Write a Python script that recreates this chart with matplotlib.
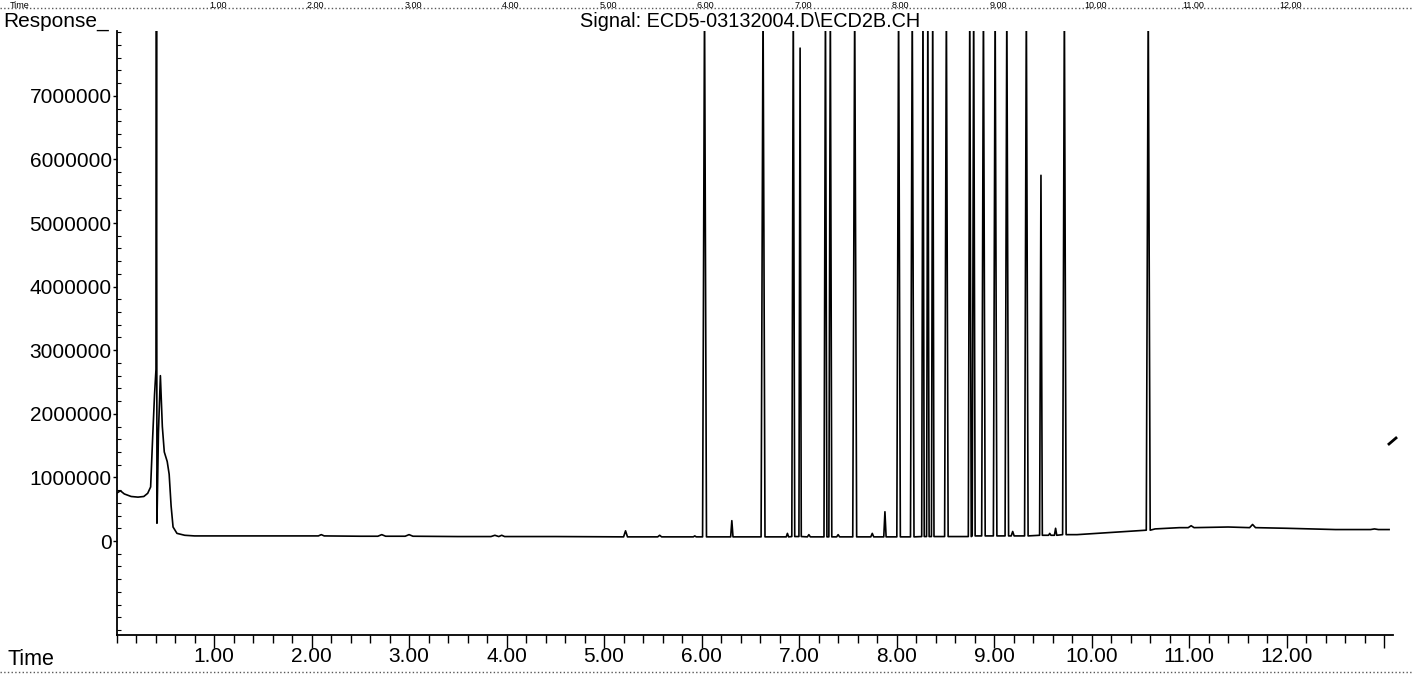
import matplotlib
matplotlib.use("Agg")
import matplotlib.pyplot as plt
import matplotlib.ticker
from matplotlib import transforms
from matplotlib.lines import Line2D

# solvent front, read point by point (time [min], response [1e6])
solvent_time = [0.00, 0.04, 0.08, 0.15, 0.22, 0.28, 0.32, 0.35, 0.37, 0.39, 0.405,
                0.41, 0.415, 0.43, 0.45, 0.47, 0.49, 0.52, 0.54, 0.56, 0.58, 0.62,
                0.70, 0.80]
solvent_resp = [0.75, 0.79, 0.74, 0.70, 0.69, 0.70, 0.75, 0.85, 1.60, 2.30, 2.70,
                8.50, 0.28, 1.70, 2.60, 1.80, 1.40, 1.25, 1.05, 0.55, 0.22, 0.12,
                0.09, 0.08]

# baseline between the peaks
base_time = [0.95, 1.50, 2.50, 3.50, 4.50, 5.50, 6.50, 7.50, 8.60, 9.30, 9.85,
             10.55, 10.65, 10.90, 11.40, 12.00, 12.50, 13.05]
base_resp = [0.08, 0.08, 0.075, 0.07, 0.07, 0.065, 0.065, 0.065, 0.07, 0.08, 0.10,
             0.17, 0.19, 0.21, 0.22, 0.20, 0.18, 0.18]

# peaks: retention time, apex, base level, half width (8.5 = off scale)
peak_time = [2.10, 2.72, 3.00, 3.88, 3.95, 5.22, 5.57, 5.93, 6.03, 6.31, 6.63,
             6.88, 6.94, 7.01, 7.10, 7.27, 7.32, 7.40, 7.57, 7.75, 7.88, 8.02,
             8.16, 8.27, 8.32, 8.37, 8.51, 8.75, 8.79, 8.89, 9.01, 9.13, 9.19,
             9.33, 9.48, 9.57, 9.63, 9.72, 10.58, 11.02, 11.65, 12.90]
peak_height = [0.10, 0.10, 0.10, 0.09, 0.09, 0.16, 0.09, 0.08, 8.5, 0.32, 8.5,
               0.12, 8.5, 7.75, 0.10, 8.5, 8.5, 0.10, 8.5, 0.12, 0.46, 8.5,
               8.5, 8.5, 8.5, 8.5, 8.5, 8.5, 8.5, 8.5, 8.5, 8.5, 0.15,
               8.5, 5.75, 0.12, 0.20, 8.5, 8.5, 0.24, 0.26, 0.19]
peak_base = [0.08, 0.075, 0.075, 0.07, 0.07, 0.065, 0.065, 0.065, 0.065, 0.065, 0.065,
             0.065, 0.07, 0.07, 0.065, 0.065, 0.065, 0.065, 0.065, 0.065, 0.065, 0.065,
             0.065, 0.07, 0.07, 0.07, 0.07, 0.07, 0.08, 0.08, 0.08, 0.08, 0.08,
             0.08, 0.09, 0.09, 0.09, 0.10, 0.17, 0.21, 0.21, 0.18]
peak_width = [0.03, 0.04, 0.04, 0.04, 0.03, 0.02, 0.02, 0.015, 0.02, 0.012, 0.02,
              0.012, 0.015, 0.012, 0.015, 0.015, 0.015, 0.015, 0.02, 0.015, 0.012, 0.018,
              0.018, 0.013, 0.013, 0.013, 0.018, 0.015, 0.015, 0.018, 0.018, 0.018, 0.015,
              0.018, 0.014, 0.012, 0.012, 0.018, 0.02, 0.03, 0.03, 0.04]

time_ticks = [1, 2, 3, 4, 5, 6, 7, 8, 9, 10, 11, 12, 13]
time_labels = ["1.00", "2.00", "3.00", "4.00", "5.00", "6.00", "7.00", "8.00",
               "9.00", "10.00", "11.00", "12.00", ""]
resp_ticks = [0, 1e6, 2e6, 3e6, 4e6, 5e6, 6e6, 7e6]
resp_labels = ["0", "1000000", "2000000", "3000000", "4000000", "5000000",
               "6000000", "7000000"]

W, H = 1413, 675
plt.rcParams["font.family"] = ["Liberation Sans", "DejaVu Sans"]

# assemble the trace
points = list(zip(solvent_time, solvent_resp)) + list(zip(base_time, base_resp))
for t, h, b, w in zip(peak_time, peak_height, peak_base, peak_width):
    points += [(t - w, b), (t, h), (t + w, b)]
points.sort()
trace_t = [p[0] for p in points]
trace_r = [p[1] * 1e6 for p in points]

fig = plt.figure(figsize=(W / 100, H / 100), dpi=100)
ax = fig.add_axes([116.5 / W, 1 - 635 / H, (1393 - 116.5) / W, (635 - 30.7) / H])
ax.plot(trace_t, trace_r, color="black", linewidth=1.2)

ax.set_xlim(0, 13.09)
ax.set_ylim(-1.478e6, 8.024e6)
for side in ["top", "right"]:
    ax.spines[side].set_visible(False)
for side in ["left", "bottom"]:
    ax.spines[side].set_linewidth(1.3)

ax.set_xticks(time_ticks)
ax.set_xticklabels(time_labels)
ax.xaxis.set_minor_locator(matplotlib.ticker.MultipleLocator(0.2))
ax.tick_params(axis="x", which="major", direction="out", length=9, width=1,
               pad=0, labelsize=15)
ax.tick_params(axis="x", which="minor", direction="out", length=5.5, width=1)

ax.set_yticks(resp_ticks)
ax.set_yticklabels(resp_labels)
ax.yaxis.set_minor_locator(matplotlib.ticker.MultipleLocator(2e5))
ax.tick_params(axis="y", which="major", direction="out", length=3, width=1,
               pad=0.5, labelsize=15)
ax.tick_params(axis="y", which="minor", direction="in", length=3, width=0.8)

fig.text(3 / W, 1 - 27 / H, "Response_", fontsize=15, va="baseline", ha="left")
fig.text(750 / W, 1 - 27 / H, "Signal: ECD5-03132004.D\\ECD2B.CH", fontsize=14.3,
         va="baseline", ha="center")
fig.text(7 / W, 1 - 665 / H, "Time", fontsize=15.5, va="baseline", ha="left")

# axis labels of the chart above, squeezed into the top strip
trans = transforms.blended_transform_factory(ax.transData, fig.transFigure)
for t, lab in zip(time_ticks, time_labels):
    ax.text(t + 0.04, 1 - 0.5 / H, lab, transform=trans, fontsize=6.5,
            ha="center", va="top", clip_on=False)
fig.text(10 / W, 1 - 0.5 / H, "Time", fontsize=6.5, va="top", ha="left")

# dotted rules and a stray scan mark
for y in [8, 672]:
    fig.add_artist(Line2D([0, 1], [1 - y / H, 1 - y / H], transform=fig.transFigure,
                          color="0.35", linestyle=":", linewidth=1.0))
fig.add_artist(Line2D([1389 / W, 1396 / W], [1 - 444 / H, 1 - 438 / H],
                      transform=fig.transFigure, color="black", linewidth=2))

fig.savefig("out.png", dpi=100)
